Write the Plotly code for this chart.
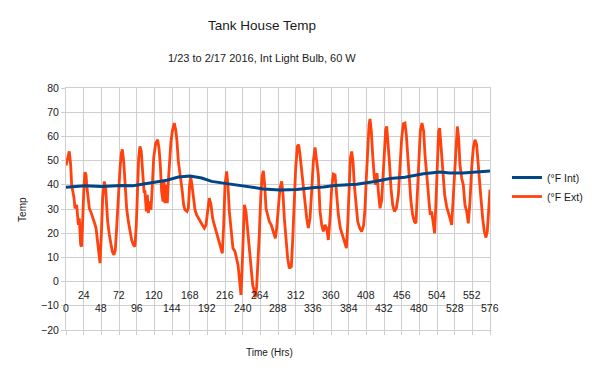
import plotly.graph_objects as go

# ---- Data ----
hours_ext = [0, 4.5, 6.3, 7.7, 10.9, 12.2, 14.5, 16.8, 18.1, 19.9, 21.3, 22.6, 24.5, 25.8, 27.2, 28.1,
             30.3, 31.7, 33.5, 35.3, 37.1, 38.9, 40.8, 42.6, 44.4, 46.2, 48, 49.8, 52.1, 53.9, 55.2,
             56.6, 58.9, 60.7, 62.9, 65.2, 67, 68.8, 71.1, 73.4, 75.2, 76.5, 78.4, 80.1, 82.4, 84.7,
             86.9, 89.2, 91.5, 93.7, 95.5, 96.9, 98.7, 100.5, 102.3, 104.1, 106,
             107.3, 109.1, 110.5, 111.8, 113.6, 115.5, 117.3, 119.1, 121.8, 124.5, 126.3, 128.1, 129.9,
             131.8, 133.1, 134.5, 136.3, 137.6, 139, 140.8, 142.6, 144.4, 147.1, 149, 150.8, 152.6,
             154.4, 156.2, 158, 159.8, 161.6, 164.4, 166.2, 168, 169.3, 171.1, 173, 175.2, 177.5,
             179.7, 182, 185.2, 187.9, 190.2, 192.4, 194.7, 197, 199.2, 201.5, 204.2, 206.9, 209.6,
             212.4, 214.2, 216, 218.2, 220, 221.9, 224.1, 226.8, 229.6,
             231.9, 233.7, 235.5, 237.7, 239.1, 240.5, 242.3, 244.5, 246.3, 248.2, 250, 251.8, 253.6,
             255.4, 257.2, 259, 260.8, 262.6, 264.5, 266.3, 268.1, 269.9, 271.7, 274, 276.2, 278.9,
             281.7, 284.4, 286.2, 288.5, 290.7, 293, 294.8, 296.6, 298.9, 301.1, 303.4, 306.1, 307.9,
             309.7, 312, 314.3, 316.1, 317.9, 320.2, 322.4, 324.7, 327, 329.2, 331.5, 333.7, 336,
             338.3, 340.5, 342.8,
             345.1, 347.4, 349.6, 351.9, 354.1, 356.4, 358.7, 360.9, 363.2, 365.5, 367.7, 370, 372.7,
             375.4, 378.1, 380.9, 382.7, 384.5, 386.3, 388.1, 389.9, 391.7, 394, 396.3, 399, 401.7,
             404.4, 406.2, 408, 409.8, 411.7, 413, 414.8, 416.6, 418.9, 420.7, 422.5, 424.3, 426.6,
             428.9, 430.7, 432.5, 434.3, 435.7, 437.5, 439.3, 441.5, 443.8, 446.1, 448.8, 451.5,
             453.8, 456, 458.3, 460.5, 462.3, 464.1, 466.4, 468.6, 470.9, 473.2, 475.4, 477.2, 479.1,
             481.3, 483.6, 485.9, 487.7, 489.5, 491.3, 493.1, 494.9, 496.7, 499, 500.8, 502.6, 504.4,
             506.2, 507.6, 509.4, 510.8, 512.6, 514.4, 517.1, 519.4, 521.6, 523.9, 525.7, 527.5,
             529.8, 531.6, 533.4, 535.2, 537.5, 539.7, 542, 544.3, 546.5, 548.8, 551.1, 553.3, 555.6,
             557.8, 559.7, 561.5, 563.7, 566, 568.3, 570.5, 572.3, 574.1, 576]
temp_ext = [48, 53.8, 48.3, 40, 34.5, 30.3, 31.7, 23.4, 26.2, 15.2, 14.5, 29, 40, 45.2, 44.1, 40,
            34.5, 30.3, 29, 27.6, 26.2, 24.1, 22.1, 16.6, 12.4, 7.6, 19.3, 34.5, 41.4, 38.6, 31.7,
            24.8, 19.3, 15.2, 12.4, 11, 13.1, 22.1, 35.9, 46.9, 53.1, 54.6, 49.7, 40, 30.3, 24.8,
            20.7, 17.2, 15.2, 14.5, 23.4, 40, 51, 55.9, 53.8, 45.5, 37.2,
            37.2, 29, 35.9, 28.3, 33.1, 29.7, 40, 51, 57.2, 58.6, 55.2, 48.3, 37.2,
            33.1, 41.4, 32.4, 40, 32.4, 41.4, 51, 57.9, 62.1, 65.5, 62.8, 57.9, 49.7,
            45.5, 42.8, 37.2, 31.7, 29.7, 29, 30.3, 40, 43.4, 40, 34.5, 29.7, 27.6,
            26.2, 24.8, 23.4, 22.1, 23.4, 29, 34.5, 31.7, 26.2, 23.4, 20.7, 17.9, 15.2,
            11.7, 23.4, 40, 45.5, 40, 29, 22.1, 13.8, 12.4,
            9.7, 6.9, 1.4, -5.5, 4.1, 19.3, 31.7, 29, 23.4, 17.9, 11, 4.1, -1.4,
            -3.4, -6.5, -2.1, 6.9, 19.3, 34.5, 43.4, 45.8, 40, 30.3, 26.9, 24.8, 23.4,
            20.7, 17.9, 22.1, 31.7, 38.6, 41.4, 35.9, 26.2, 17.9, 9.7, 5.5, 6.2, 16.6,
            31.7, 46.9, 55.9, 56.6, 52.4, 45.5, 37.2, 30.3, 26.2, 22.1, 26.2, 37.2, 49.7,
            55.4, 48.3, 44.1,
            29, 23.4, 20.7, 23.4, 22.1, 17.2, 26.2, 38.6, 44.4, 44.1, 35.9, 27.6, 22.1,
            19.3, 15.9, 13.8, 23.4, 40, 51, 53.8, 49.7, 40, 30.3, 24.8, 22.1, 20.7,
            23.4, 30.3, 42.8, 55.2, 64.8, 67.2, 62.1, 52.4, 42.8, 40, 44.8, 37.2, 30.3,
            33.8, 42.8, 55.2, 62.8, 64.1, 57.9, 49.7, 38.6, 31.7, 29, 30.3, 35.9,
            46.9, 59.3, 65.2, 65.5, 60.7, 52.4, 41.4, 33.1, 27.6, 24.8, 24.1, 35.9, 51,
            62.1, 65.5, 62.1, 52.4, 44.1, 40, 33.1, 27.6, 29, 23.4, 20, 33.1, 52.4,
            62.1, 63.4, 56.6, 49.7, 42.8, 35.9, 31, 29, 26.2, 23.4, 33.1, 46.9,
            59.3, 64.1, 59.3, 48.3, 42.8, 40, 31.7, 29, 24.1, 33.1, 46.9, 55.2, 58.6,
            56.6, 49.7, 41.4, 34.5, 26.2, 20.7, 18.2, 20.7, 29, 38]

hours_int = [0, 10, 26, 48, 60, 76, 91, 107, 114, 137, 152.6, 168.5, 184.3, 197.9, 213.7, 229.5,
             245.4, 259, 268, 290.7, 313.4, 338, 349.6, 365.5, 395, 419.8, 440, 460.5, 485.4, 508,
             521.6, 539.4, 556, 576]
temp_int = [39, 39.2, 39.6, 39.3, 39.5, 39.7, 39.6, 40.3, 40.7, 41.9, 43.2, 43.6, 42.8, 41.4, 40.7,
            40, 39.4, 38.8, 38.3, 37.9, 38.1, 38.9, 39.1, 39.7, 40.2, 41.4, 42.6, 43.1, 44.6, 45.3,
            44.9, 44.9, 45.2, 45.7]

tick_upper = [24, 72, 120, 168, 216, 264, 312, 360, 408, 456, 504, 552]
tick_lower = [0, 48, 96, 144, 192, 240, 288, 336, 384, 432, 480, 528, 576]

FONT = "Liberation Sans, Arial, sans-serif"
TXT = "#1a1a1a"
GRID = "#cfcfcf"

fig = go.Figure()
fig.add_trace(go.Scatter(x=hours_ext, y=temp_ext, mode="lines", name="(°F Ext)",
                         line=dict(color="#ff420e", width=2.8), legendrank=2))
fig.add_trace(go.Scatter(x=hours_int, y=temp_int, mode="lines", name="(°F Int)",
                         line=dict(color="#004586", width=3), legendrank=1))

annotations = []
for t in tick_upper:
    annotations.append(dict(x=t, y=-5.6, xref="x", yref="y", text=str(t), showarrow=False,
                            xanchor="center", yanchor="middle",
                            font=dict(family=FONT, size=10.5, color=TXT)))
for t in tick_lower:
    annotations.append(dict(x=t, y=-11.1, xref="x", yref="y", text=str(t), showarrow=False,
                            xanchor="center", yanchor="middle",
                            font=dict(family=FONT, size=10.5, color=TXT)))
annotations.append(dict(x=0.462, y=1.0 + (88 - 58) / 242.5, xref="paper", yref="paper",
                        text="1/23 to 2/17 2016, Int Light Bulb, 60 W", showarrow=False,
                        xanchor="center", yanchor="middle",
                        font=dict(family=FONT, size=11, color=TXT)))
annotations.append(dict(x=0.481, y=-0.095, xref="paper", yref="paper", text="Time (Hrs)",
                        showarrow=False, xanchor="center", yanchor="middle",
                        font=dict(family=FONT, size=10, color=TXT)))
annotations.append(dict(x=-0.104, y=0.5, xref="paper", yref="paper", text="Temp",
                        showarrow=False, textangle=-90, xanchor="center", yanchor="middle",
                        font=dict(family=FONT, size=10, color=TXT)))

fig.update_layout(
    width=600, height=375,
    margin=dict(l=66, r=110, t=88, b=45),
    paper_bgcolor="white", plot_bgcolor="white",
    title=dict(text="Tank House Temp", x=262 / 600, xanchor="center",
               y=1 - 25 / 375, yanchor="middle",
               font=dict(family=FONT, size=13.5, color=TXT)),
    font=dict(family=FONT, color=TXT),
    showlegend=True,
    legend=dict(x=1.04, xanchor="left", y=0.69, yanchor="top",
                font=dict(family=FONT, size=10.5, color=TXT),
                bgcolor="rgba(0,0,0,0)", borderwidth=0),
    annotations=annotations,
)
fig.update_xaxes(range=[0, 576], dtick=24, tick0=0, showticklabels=False,
                 showgrid=True, gridcolor=GRID, gridwidth=1,
                 ticks="outside", ticklen=4, tickcolor=GRID,
                 showline=True, linecolor=GRID, mirror=True, zeroline=False)
fig.update_yaxes(range=[-20, 80], dtick=10, tick0=0,
                 showgrid=True, gridcolor=GRID, gridwidth=1,
                 ticks="outside", ticklen=4, tickcolor=GRID,
                 tickfont=dict(family=FONT, size=10.5, color=TXT),
                 showline=True, linecolor=GRID, mirror=True, zeroline=False)

fig.write_html("out.html", config={"displayModeBar": False},
               post_script="document.body.style.margin='0';document.body.style.overflow='hidden';")
